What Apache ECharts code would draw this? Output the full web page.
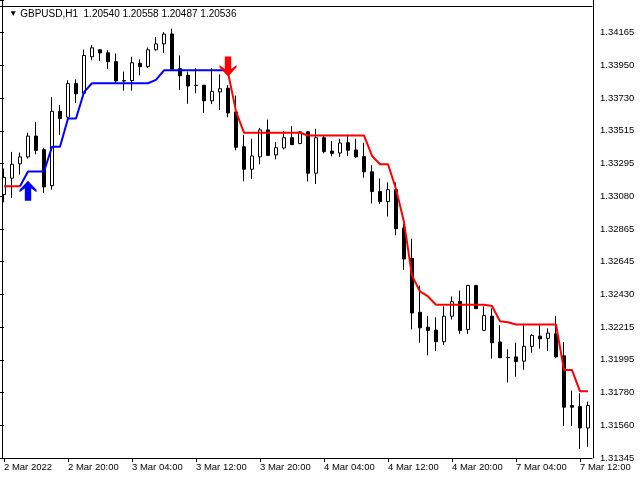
<!DOCTYPE html>
<html><head><meta charset="utf-8">
<script src="https://cdn.jsdelivr.net/npm/echarts@6/dist/echarts.min.js"></script>
<style>html,body{margin:0;padding:0;background:#fff}#c{width:640px;height:480px}</style>
</head><body><div id="c"></div>
<script>
// hourly bars, weekend skipped
const sessionDays = [['2 Mar', 12, 23], ['3 Mar', 0, 23], ['4 Mar', 0, 23], ['7 Mar', 0, 13]];
const categories = [];
sessionDays.forEach(function (d) { for (let h = d[1]; h <= d[2]; h++) categories.push(d[0] + ' ' + String(h).padStart(2, '0') + ':00'); });

const xTickLabels = ['2 Mar 2022', '2 Mar 20:00', '3 Mar 04:00', '3 Mar 12:00', '3 Mar 20:00', '4 Mar 04:00', '4 Mar 12:00', '4 Mar 20:00', '7 Mar 04:00', '7 Mar 12:00'];
const yTickLabels = ['1.31345', '1.31560', '1.31780', '1.31995', '1.32215', '1.32430', '1.32645', '1.32865', '1.33080', '1.33295', '1.33515', '1.33730', '1.33950', '1.34165'];
const titleText = 'GBPUSD,H1  1.20540 1.20558 1.20487 1.20536';

const openP = [1.33087, 1.33196, 1.33291, 1.33337, 1.33475, 1.33385, 1.33146, 1.33639, 1.33600, 1.33823,
  1.33759, 1.34001, 1.34047, 1.34027, 1.33968, 1.33842, 1.33843, 1.33957, 1.33935, 1.34047,
  1.34086, 1.34152, 1.33922, 1.33878, 1.33812, 1.33812, 1.33709, 1.33768, 1.33792, 1.33635,
  1.33404, 1.33255, 1.33337, 1.33516, 1.33350, 1.33396, 1.33464, 1.33426, 1.33503, 1.33229,
  1.33464, 1.33376, 1.33363, 1.33431, 1.33383, 1.33339, 1.33238, 1.33107, 1.33041, 1.33120,
  1.32866, 1.32664, 1.32307, 1.32208, 1.32189, 1.32112, 1.32281, 1.32379, 1.32193, 1.32484,
  1.32187, 1.32281, 1.32110, 1.32006, 1.32011, 1.31983, 1.32081, 1.32149, 1.32134, 1.32164,
  1.32018, 1.31689, 1.31682, 1.31540];
const highP = [1.33260, 1.33370, 1.33365, 1.33497, 1.33569, 1.33398, 1.33733, 1.33681, 1.33845, 1.33851,
  1.34049, 1.34078, 1.34049, 1.34044, 1.34022, 1.33902, 1.34001, 1.33983, 1.34062, 1.34132,
  1.34164, 1.34187, 1.34009, 1.33902, 1.33927, 1.33814, 1.33927, 1.33884, 1.33812, 1.33744,
  1.33483, 1.33457, 1.33529, 1.33584, 1.33435, 1.33508, 1.33541, 1.33508, 1.33506, 1.33523,
  1.33477, 1.33442, 1.33457, 1.33485, 1.33457, 1.33431, 1.33282, 1.33194, 1.33168, 1.33168,
  1.32892, 1.32795, 1.32484, 1.32281, 1.32274, 1.32346, 1.32412, 1.32451, 1.32489, 1.32489,
  1.32346, 1.32333, 1.32221, 1.32062, 1.32105, 1.32221, 1.32164, 1.32221, 1.32200, 1.32281,
  1.32110, 1.31788, 1.31770, 1.31715];
const lowP = [1.33036, 1.33065, 1.33220, 1.33326, 1.33354, 1.33098, 1.33120, 1.33483, 1.33592, 1.33694,
  1.33755, 1.33978, 1.33973, 1.33920, 1.33825, 1.33776, 1.33776, 1.33878, 1.33927, 1.34042,
  1.34026, 1.33917, 1.33781, 1.33689, 1.33759, 1.33628, 1.33687, 1.33648, 1.33600, 1.33380,
  1.33176, 1.33190, 1.33288, 1.33345, 1.33321, 1.33387, 1.33416, 1.33421, 1.33174, 1.33157,
  1.33360, 1.33341, 1.33337, 1.33342, 1.33330, 1.33199, 1.33028, 1.33025, 1.32942, 1.32818,
  1.32588, 1.32193, 1.32105, 1.32022, 1.32050, 1.32090, 1.32259, 1.32164, 1.32164, 1.32329,
  1.32186, 1.32000, 1.32003, 1.31842, 1.31880, 1.31926, 1.32039, 1.32066, 1.32050, 1.32003,
  1.31553, 1.31553, 1.31400, 1.31415];
const closeP = [1.33201, 1.33288, 1.33337, 1.33475, 1.33380, 1.33138, 1.33639, 1.33591, 1.33823, 1.33755,
  1.34009, 1.34060, 1.34026, 1.33968, 1.33840, 1.33840, 1.33961, 1.33935, 1.34047, 1.34086,
  1.34151, 1.33919, 1.33875, 1.33807, 1.33810, 1.33709, 1.33771, 1.33789, 1.33628, 1.33401,
  1.33255, 1.33343, 1.33516, 1.33347, 1.33398, 1.33464, 1.33418, 1.33503, 1.33229, 1.33464,
  1.33372, 1.33360, 1.33429, 1.33381, 1.33337, 1.33238, 1.33107, 1.33041, 1.33120, 1.32861,
  1.32660, 1.32302, 1.32204, 1.32187, 1.32112, 1.32281, 1.32377, 1.32187, 1.32484, 1.32331,
  1.32285, 1.32105, 1.32006, 1.32008, 1.31980, 1.32081, 1.32154, 1.32131, 1.32169, 1.32011,
  1.31678, 1.31678, 1.31540, 1.31689];

// trailing stop line: start bar index + values
const redLine1Start = 0;
const redLine1 = [1.33142, 1.33142, 1.33142];
const blueLineStart = 2;
const blueLine = [1.33142, 1.33240, 1.33240, 1.33240, 1.33404, 1.33404, 1.33591, 1.33591, 1.33766,
  1.33825, 1.33825, 1.33825, 1.33825, 1.33825, 1.33825, 1.33825, 1.33825, 1.33848,
  1.33911, 1.33911, 1.33911, 1.33911, 1.33911, 1.33911, 1.33911, 1.33911, 1.33911];
const redLine2Start = 28;
const redLine2 = [1.33897, 1.33639, 1.33497, 1.33497, 1.33497, 1.33497, 1.33497, 1.33497, 1.33497, 1.33497,
  1.33479, 1.33479, 1.33479, 1.33479, 1.33479, 1.33479, 1.33479, 1.33479,
  1.33343, 1.33288, 1.33288, 1.33124, 1.32905, 1.32550, 1.32445, 1.32412,
  1.32357, 1.32357, 1.32357, 1.32357, 1.32357, 1.32357, 1.32357, 1.32348,
  1.32248, 1.32241, 1.32226, 1.32226, 1.32226, 1.32226, 1.32226, 1.32226,
  1.31924, 1.31924, 1.31783, 1.31783];

// signal arrows [bar index, price]
const buyArrow = [3, 1.33112];
const sellArrow = [28, 1.33937];

const candles = openP.map(function (o, i) { return [o, closeP[i], lowP[i], highP[i]]; });
function pairs(start, arr) { return arr.map(function (v, i) { return [start + i, v]; }); }

const FONT = 'Liberation Sans';
const arrowPath = 'path://M8,0 L16,9 L16,11.5 L11,7.5 L11,20 L5,20 L5,7.5 L0,11.5 L0,9 Z';

const chart = echarts.init(document.getElementById('c'), null, { renderer: 'canvas' });
chart.setOption({
  animation: false,
  backgroundColor: '#fff',
  title: {
    text: '{t|▼} ' + titleText,
    left: 4, top: 4,
    textStyle: { fontSize: 10, fontWeight: 'normal', fontFamily: FONT, color: '#000',
      rich: { t: { fontSize: 8.5, color: '#000' } } }
  },
  grid: { left: 0, right: 48, top: -4, bottom: 22 },
  xAxis: [{
    type: 'category', data: categories, boundaryGap: true, position: 'bottom',
    axisLine: { show: true, lineStyle: { color: '#000', width: 1 } },
    axisTick: { show: true, alignWithLabel: true, length: 4, lineStyle: { color: '#000' },
      interval: function (i) { return i % 8 === 0; } },
    axisLabel: { show: true, interval: function (i) { return i % 8 === 0; }, align: 'left', margin: 4,
      fontSize: 9.5, fontFamily: FONT, color: '#000',
      formatter: function (v, i) { return i % 8 === 0 ? (xTickLabels[i / 8] || '') : ''; } },
    splitLine: { show: false }
  }, {
    type: 'value', position: 'top', min: 0, max: 1, offset: -6,
    axisLine: { show: true, onZero: false, lineStyle: { color: '#000', width: 1 } },
    axisTick: { show: false }, axisLabel: { show: false }, splitLine: { show: false }
  }],
  yAxis: [{
    type: 'value', position: 'right', min: 1.31341, max: 1.34377, scale: true, offset: 1,
    axisLine: { show: true, onZero: false, lineStyle: { color: '#000', width: 1 } },
    axisTick: { show: false }, axisLabel: { show: false }, splitLine: { show: false }
  }, {
    type: 'value', position: 'right', min: 0, max: 14, interval: 1, offset: 1,
    axisLine: { show: false },
    axisTick: { show: true, length: 4, lineStyle: { color: '#000' } },
    axisLabel: { show: true, margin: 7, fontSize: 9.5, fontFamily: FONT, color: '#000',
      formatter: function (v) { const k = Math.round(v); return (Math.abs(v - k) < 1e-6 && yTickLabels[k]) ? yTickLabels[k] : ''; } },
    splitLine: { show: false }
  }, {
    type: 'value', position: 'left', min: 0, max: 1, offset: -2,
    axisLine: { show: true, onZero: false, lineStyle: { color: '#000', width: 1 } },
    axisTick: { show: false }, axisLabel: { show: false }, splitLine: { show: false }
  }],
  series: [{
    type: 'candlestick', xAxisIndex: 0, yAxisIndex: 0, data: candles, barWidth: 4, z: 2,
    itemStyle: { color: '#fff', color0: '#000', borderColor: '#000', borderColor0: '#000', borderColorDoji: '#000', borderWidth: 1 }
  }, {
    type: 'line', xAxisIndex: 0, yAxisIndex: 0, data: pairs(redLine1Start, redLine1), symbol: 'none', z: 3,
    lineStyle: { color: '#ff0000', width: 2 }
  }, {
    type: 'line', xAxisIndex: 0, yAxisIndex: 0, data: pairs(blueLineStart, blueLine), symbol: 'none', z: 3,
    lineStyle: { color: '#0000ff', width: 2 }
  }, {
    type: 'line', xAxisIndex: 0, yAxisIndex: 0, data: pairs(redLine2Start, redLine2), symbol: 'none', z: 3,
    lineStyle: { color: '#ff0000', width: 2 }
  }, {
    type: 'scatter', xAxisIndex: 0, yAxisIndex: 0, data: [buyArrow], symbol: arrowPath, symbolSize: [17, 20], z: 4,
    itemStyle: { color: '#0000ff', opacity: 1 }
  }, {
    type: 'scatter', xAxisIndex: 0, yAxisIndex: 0, data: [sellArrow], symbol: arrowPath, symbolSize: [17, 20], symbolRotate: 180, z: 4,
    itemStyle: { color: '#ff0000', opacity: 1 }
  }]
});
</script></body></html>
